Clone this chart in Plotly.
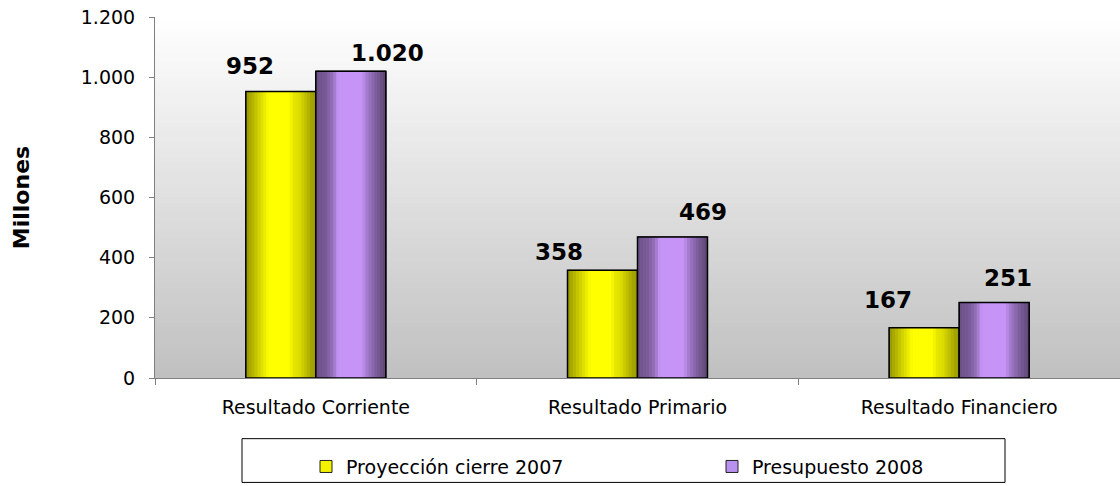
import plotly.graph_objects as go

categories = ["Resultado Corriente", "Resultado Primario", "Resultado Financiero"]
proyeccion_2007 = [952, 358, 167]
presupuesto_2008 = [1020, 469, 251]
series_names = ["Proyección cierre 2007", "Presupuesto 2008"]
y_ticks = [0, 200, 400, 600, 800, 1000, 1200]

# label offsets (px) relative to category centre
lab_dx = {0: [-66, -79, -71], 1: [72, 65, 49]}
lab_dy = {0: [11, 3, 13], 1: [3, 10, 9]}

FONT = "DejaVu Sans"
BAR_W = 0.2176
N_STRIPES = 24

def interp(t, pts):
    for (t0, f0), (t1, f1) in zip(pts[:-1], pts[1:]):
        if t0 <= t <= t1:
            return f0 + (f1 - f0) * (t - t0) / (t1 - t0)
    return pts[-1][1]

yellow_prof = [(0, 0.58), (0.08, 0.68), (0.2, 0.84), (0.33, 1.0), (0.62, 1.0),
               (0.68, 0.9), (0.76, 0.87), (0.86, 0.74), (0.94, 0.64), (1, 0.6)]
purple_prof = [(0, 0.52), (0.15, 0.6), (0.25, 0.74), (0.32, 0.97), (0.66, 0.97),
               (0.72, 0.82), (0.85, 0.62), (1, 0.45)]
base_rgb = [(255, 255, 0), (204, 153, 255)]
profiles = [yellow_prof, purple_prof]
legend_cols = ["#f2f200", "#b991ee"]

fig = go.Figure()
data = [proyeccion_2007, presupuesto_2008]
offsets = [-BAR_W, 0.0]

for s in range(2):
    # base bar (legend entry)
    fig.add_trace(go.Bar(
        x=categories, y=data[s], name=series_names[s],
        width=BAR_W, offset=offsets[s],
        marker=dict(color=legend_cols[s], line=dict(color="#222", width=1)),
        hoverinfo="skip", legendrank=s + 1,
    ))
    sw = BAR_W / N_STRIPES
    for i in range(N_STRIPES):
        t = (i + 0.5) / N_STRIPES
        f = interp(t, profiles[s])
        r, g, b = [min(255, int(round(c * f))) for c in base_rgb[s]]
        fig.add_trace(go.Bar(
            x=categories, y=data[s], width=sw * 1.15, offset=offsets[s] + i * sw,
            marker=dict(color=f"rgb({r},{g},{b})", line=dict(width=0)),
            showlegend=False, hoverinfo="skip",
        ))
    # outline
    fig.add_trace(go.Bar(
        x=categories, y=data[s], width=BAR_W, offset=offsets[s],
        marker=dict(color="rgba(0,0,0,0)", line=dict(color="black", width=1.5)),
        showlegend=False, hoverinfo="skip",
    ))

def fmt(v):
    return f"{v:,}".replace(",", ".")

annotations = []
for s in range(2):
    for k, cat in enumerate(categories):
        annotations.append(dict(
            x=cat, y=data[s][k], xref="x", yref="y", text=fmt(data[s][k]),
            showarrow=False, xanchor="center", yanchor="bottom",
            xshift=lab_dx[s][k], yshift=lab_dy[s][k],
            font=dict(family=FONT, size=23, color="black", weight="bold"),
        ))

# plot-area vertical gradient
shapes = []
NB = 72
for i in range(NB):
    y0 = i / NB
    y1 = min(1.0, (i + 1) / NB + 0.004)
    v = int(round(192 + (255 - 192) * (i + 0.5) / NB))
    shapes.append(dict(type="rect", xref="paper", yref="paper", x0=0, x1=1,
                       y0=y0, y1=y1, fillcolor=f"rgb({v},{v},{v})",
                       line=dict(width=0), layer="below"))
# legend box
shapes.append(dict(type="rect", xref="paper", yref="paper",
                   x0=(242 - 155) / 965, x1=(1005 - 155) / 965,
                   y0=(380 - 441) / 363, y1=(380 - 485) / 363,
                   line=dict(color="black", width=1), fillcolor="rgba(0,0,0,0)",
                   layer="above"))

fig.update_layout(
    width=1120, height=486,
    margin=dict(l=155, r=0, t=17, b=106),
    paper_bgcolor="white", plot_bgcolor="white",
    barmode="overlay", separators=",.",
    font=dict(family=FONT, size=19, color="black"),
    showlegend=True,
    legend=dict(orientation="h", x=(306 - 155) / 965, xanchor="left",
                y=(380 - 450) / 363, yanchor="top",
                entrywidth=361, entrywidthmode="pixels",
                font=dict(family=FONT, size=19, color="black"),
                bgcolor="rgba(0,0,0,0)", borderwidth=0, traceorder="normal"),
    shapes=shapes, annotations=annotations, hovermode=False,
)
fig.update_xaxes(
    type="category", range=[-0.5, 2.5], tickson="boundaries",
    ticks="outside", ticklen=6, tickcolor="#808080",
    showline=True, linecolor="#808080", linewidth=1, showgrid=False,
    ticklabelstandoff=12, tickfont=dict(family=FONT, size=19, color="black"),
)
fig.update_yaxes(
    range=[0, 1200], tickvals=y_ticks, tickformat=",d",
    ticks="outside", ticklen=5, tickcolor="#808080",
    showline=True, linecolor="#808080", linewidth=1, showgrid=False, zeroline=False,
    ticklabelstandoff=10, tickfont=dict(family=FONT, size=19, color="black"),
    title=dict(text="Millones", standoff=45,
               font=dict(family=FONT, size=22, color="black", weight="bold")),
)

fig.write_html("out.html", config={"displayModeBar": False},
               post_script="document.body.style.margin='0';document.body.style.overflow='hidden';")
